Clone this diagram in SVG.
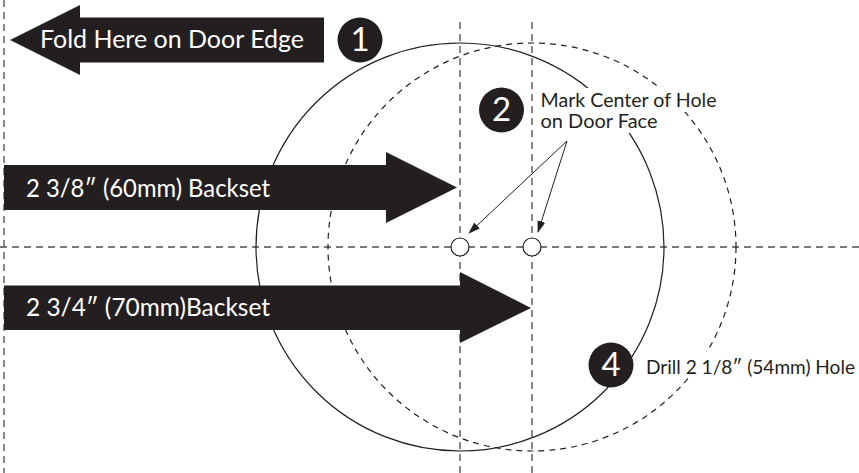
<svg xmlns="http://www.w3.org/2000/svg" width="859" height="473" viewBox="0 0 859 473">
<style>
.guide{fill:none;stroke:#4d4b4c;stroke-width:1.3;stroke-dasharray:7 5}
.ring{fill:none;stroke:#231f20;stroke-width:1.2}
.dash{stroke-dasharray:6 5}
.hole{fill:#fff;stroke:#231f20;stroke-width:1.2}
.arrow{fill:#231f20}
.lead{fill:none;stroke:#231f20;stroke-width:1}
.w{font-family:Lato,"Open Sans","Liberation Sans",sans-serif;fill:#fff}
.k{font-family:Lato,"Open Sans","Liberation Sans",sans-serif;fill:#231f20}
.num{font-size:33px;text-anchor:middle}
.mask{fill:#fff}
</style>
<defs>
<marker id="tip" viewBox="0 0 12 8" refX="11" refY="4" markerWidth="12" markerHeight="8" markerUnits="userSpaceOnUse" orient="auto"><path d="M0 0L12 4L0 8z" fill="#231f20"/></marker>
</defs>
<g id="guides">
<path class="guide" d="M4 0V473" stroke-dasharray="6 4.500"/>
<path class="guide" d="M460 22V473"/>
<path class="guide" d="M532 22V473"/>
<path class="guide" d="M0 247H859"/>
</g>
<g id="circles">
<circle class="ring" cx="460" cy="247" r="204"/>
<circle class="ring dash" cx="532" cy="247" r="204"/>
</g>
<g id="hole-left"><circle class="hole" cx="460" cy="247" r="9"/></g>
<g id="hole-right"><circle class="hole" cx="532" cy="247" r="9"/></g>
<g id="arrow-fold">
<path class="arrow" d="M10 40L80 5V17.500H324V62.500H80V75z"/>
<text class="w" x="40" y="48.300" font-size="25" textLength="264" lengthAdjust="spacingAndGlyphs">Fold Here on Door Edge</text>
</g>
<g id="arrow-60mm">
<path class="arrow" d="M4 165H386V152L457 187.500L386 223V210H4z"/>
<text class="w" x="26" y="196.500" font-size="25" textLength="244" lengthAdjust="spacingAndGlyphs">2 3/8″ (60mm) Backset</text>
</g>
<g id="arrow-70mm">
<path class="arrow" d="M4 285.500H460V272L531 308L460 343V330H4z"/>
<text class="w" x="26" y="316.300" font-size="25" textLength="244" lengthAdjust="spacingAndGlyphs">2 3/4″  (70mm)Backset</text>
</g>
<g id="step-1">
<circle class="arrow" cx="360" cy="40" r="22.500"/>
<text class="w num" x="360" y="50.500">1</text>
</g>
<g id="step-2">
<circle class="arrow" cx="501.500" cy="110" r="22.500"/>
<text class="w num" x="501.500" y="121">2</text>
</g>
<g id="label-mark">
<path class="mask" d="M538 88H725V112H670V133H538z"/>
<text class="k" x="540.500" y="106.800" font-size="18.500" textLength="176" lengthAdjust="spacingAndGlyphs">Mark Center of Hole</text>
<text class="k" x="540.500" y="128.300" font-size="18.500" textLength="117" lengthAdjust="spacingAndGlyphs">on Door Face</text>
</g>
<g id="connectors">
<path class="lead" d="M567 141L469 233" marker-end="url(#tip)"/>
<path class="lead" d="M567 141L538 232" marker-end="url(#tip)"/>
</g>
<g id="step-4">
<circle class="arrow" cx="611" cy="365" r="22.500"/>
<text class="w num" x="611" y="375.700">4</text>
</g>
<g id="label-drill">
<path class="mask" d="M640 352H859V376H640z"/>
<text class="k" x="646" y="374" font-size="18.500" textLength="209" lengthAdjust="spacingAndGlyphs">Drill 2 1/8″ (54mm) Hole</text>
</g>
</svg>
